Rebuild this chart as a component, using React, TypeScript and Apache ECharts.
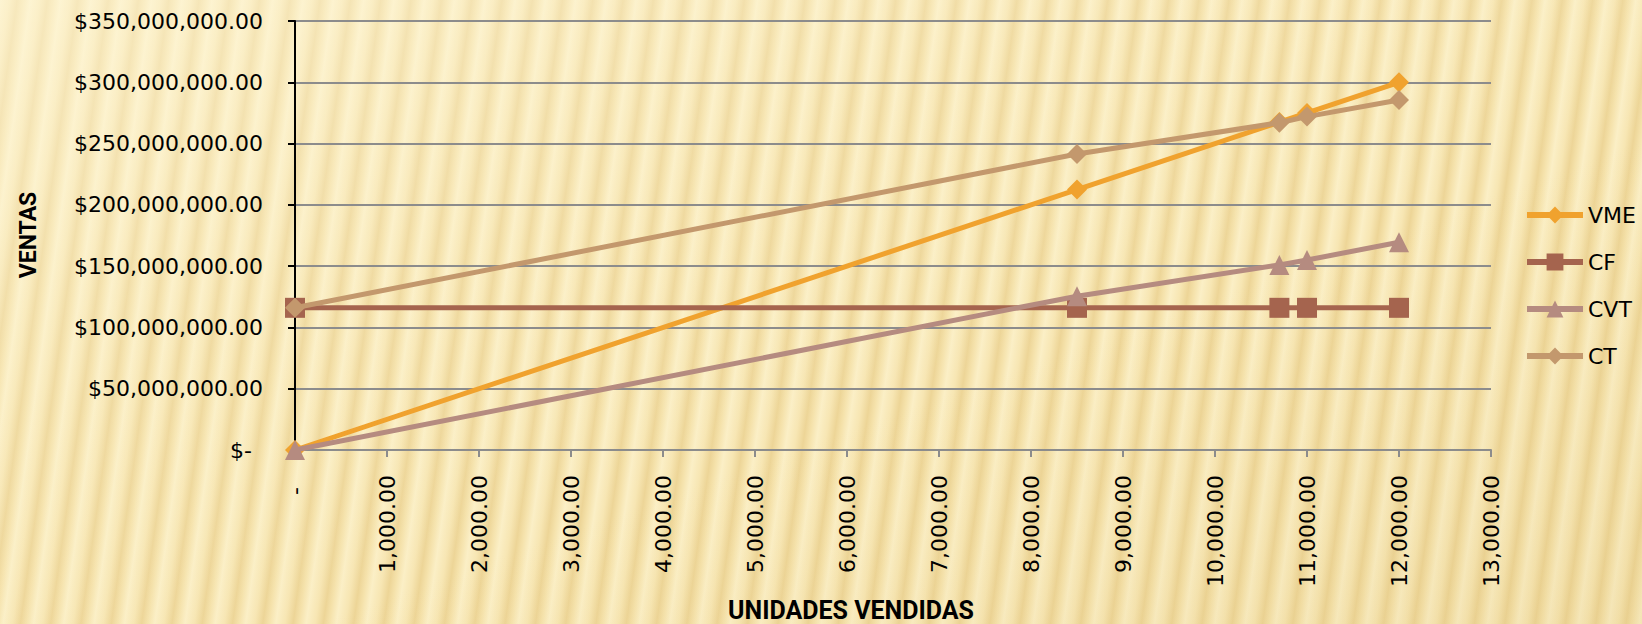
import React, { useEffect, useRef } from "react";
import * as echarts from "echarts";

const unitsSold = [0, 8500, 10700, 11000, 12000];
const vmeValues = [0, 212500000, 267500000, 275000000, 300000000];
const cfValues = [116000000, 116000000, 116000000, 116000000, 116000000];
const cvtValues = [0, 125500000, 151000000, 155000000, 169500000];
const ctValues = [116000000, 241500000, 267000000, 272000000, 285500000];
const seriesNames = ["VME", "CF", "CVT", "CT"];
const yAxisTitle = "VENTAS";
const xAxisTitle = "UNIDADES VENDIDAS";

const colors = ["#F0A22E", "#A5644E", "#B58B80", "#C3986D"];
const symbols = ["diamond", "rect", "triangle", "diamond"];

const pair = (ys: number[]) => unitsSold.map((x, i) => [x, ys[i]]);

const fmt2 = (v: number) =>
  v.toLocaleString("en-US", { minimumFractionDigits: 2, maximumFractionDigits: 2 });

export default function App() {
  const ref = useRef<HTMLDivElement>(null);
  useEffect(() => {
    if (!ref.current) return;
    const chart = echarts.init(ref.current, null, { renderer: "svg" });
    const font = "DejaVu Sans";
    const data = [vmeValues, cfValues, cvtValues, ctValues];
    chart.setOption({
      animation: false,
      backgroundColor: "transparent",
      grid: { left: 295, right: 151, top: 21, bottom: 174, containLabel: false },
      legend: {
        orient: "vertical",
        left: 1519,
        top: 199,
        itemWidth: 56,
        itemHeight: 21,
        itemGap: 25,
        lineStyle: { width: 6 },
        textStyle: { fontFamily: font, fontSize: 22, color: "#000" },
        data: seriesNames,
      },
      xAxis: {
        type: "value",
        min: 0,
        max: 13000,
        interval: 1000,
        axisLine: { show: true, onZero: false, lineStyle: { color: "#8C8C8C", width: 2 } },
        axisTick: { show: true, length: 7, lineStyle: { color: "#8C8C8C", width: 2 } },
        splitLine: { show: false },
        axisLabel: {
          rotate: 90,
          margin: 25,
          color: "#000",
          fontFamily: font,
          fontSize: 22,
          formatter: (v: number) => (v === 0 ? "{z|-}" : fmt2(v)),
          rich: { z: { fontFamily: font, fontSize: 22, color: "#000", padding: [0, 12, 0, 0] } },
        },
      },
      yAxis: {
        type: "value",
        min: 0,
        max: 350000000,
        interval: 50000000,
        axisLine: { show: true, lineStyle: { color: "#000", width: 2 } },
        axisTick: { show: true, length: 7, lineStyle: { color: "#000", width: 2 } },
        splitLine: { show: true, lineStyle: { color: "#8C8C8C", width: 2 } },
        axisLabel: {
          margin: 32,
          color: "#000",
          fontFamily: font,
          fontSize: 22,
          formatter: (v: number) => (v === 0 ? "{z|$-}" : "$" + fmt2(v)),
          rich: { z: { fontFamily: font, fontSize: 22, color: "#000", padding: [0, 11, 0, 0] } },
        },
      },
      series: seriesNames.map((name, i) => ({
        name,
        type: "line",
        data: pair(data[i]),
        symbol: symbols[i],
        symbolSize: 20,
        showAllSymbol: true,
        color: colors[i],
        itemStyle: { color: colors[i] },
        lineStyle: { color: colors[i], width: 5 },
        z: 2 + i,
      })),
      graphic: [
        {
          type: "text",
          x: 28,
          y: 235,
          rotation: Math.PI / 2,
          style: {
            text: yAxisTitle,
            fontFamily: "Roboto",
            fontWeight: "bold",
            fontSize: 23,
            fill: "#000",
            align: "center",
            verticalAlign: "middle",
          },
        },
        {
          type: "text",
          x: 851,
          y: 610,
          style: {
            text: xAxisTitle,
            fontFamily: "Roboto",
            fontWeight: "bold",
            fontSize: 25,
            fill: "#000",
            align: "center",
            verticalAlign: "middle",
          },
        },
      ],
    });
    return () => chart.dispose();
  }, []);
  return (
    <div
      style={{
        position: "fixed",
        left: 0,
        top: 0,
        width: 1642,
        height: 624,
        background:
          "linear-gradient(160deg, rgba(255,248,220,0.55) 0%, rgba(255,248,220,0.15) 35%, rgba(230,205,140,0.0) 60%, rgba(215,185,110,0.18) 100%)," +
          "repeating-linear-gradient(98deg, #FBEFC6 0px, #F7E6B3 9px, #EDD597 17px, #F5E2AB 23px, #FBEFC6 30px)",
      }}
    >
      <div ref={ref} style={{ width: 1642, height: 624 }} />
    </div>
  );
}
